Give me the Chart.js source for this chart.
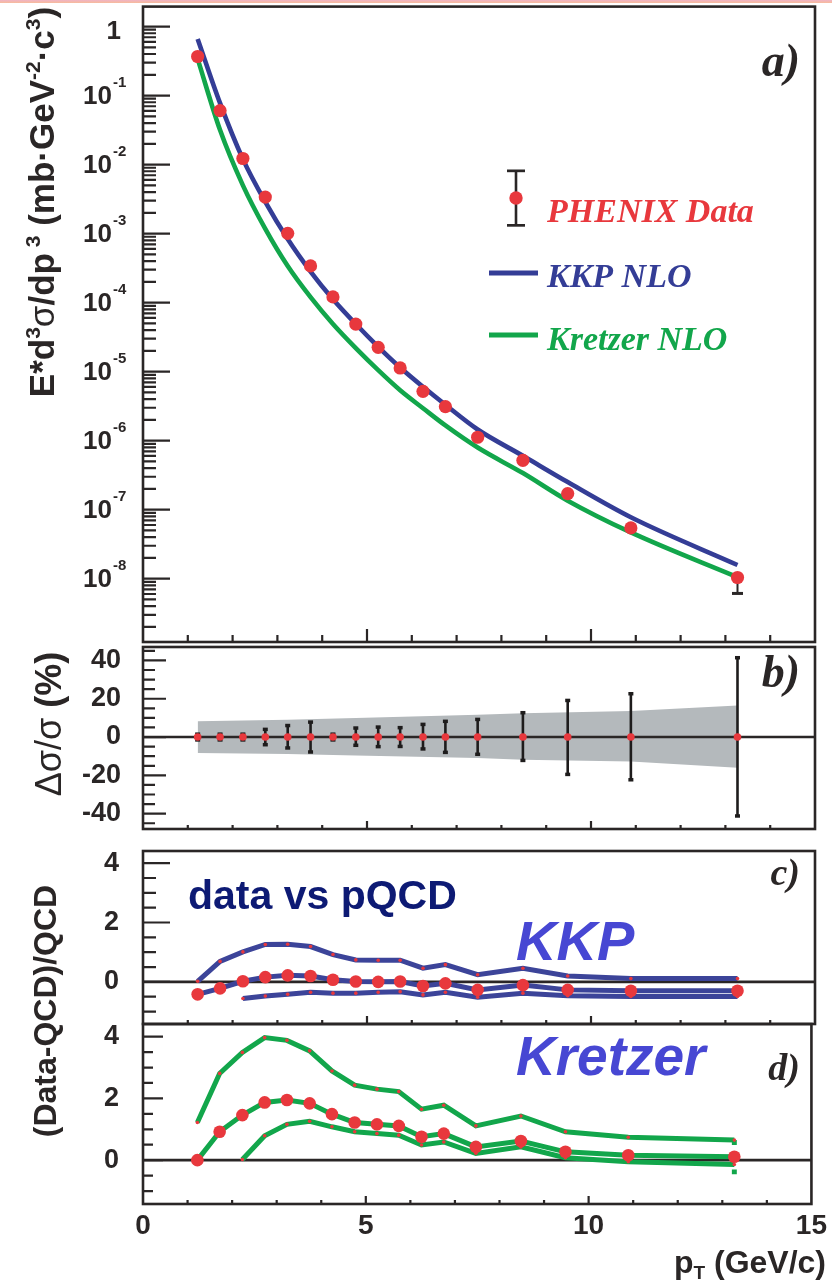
<!DOCTYPE html>
<html>
<head>
<meta charset="utf-8">
<title>PHENIX pi0 cross section vs NLO pQCD</title>
<script src="https://cdn.jsdelivr.net/npm/chart.js@4.4.1/dist/chart.umd.min.js"></script>
<style>
  html, body { margin:0; padding:0; background:#ffffff; }
  #wrap { position:relative; width:832px; height:1281px; overflow:hidden; background:#fff; }
  #wrap canvas { position:absolute; left:0; top:0; }
  #topbar { position:absolute; left:0; top:0; width:832px; height:3px; background:linear-gradient(to bottom,#f0b3c4,#f7bb9c); }
</style>
</head>
<body>
<div id="wrap">
  <canvas id="chartA" width="832" height="1281"></canvas>
  <canvas id="chartB" width="832" height="1281"></canvas>
  <canvas id="chartC" width="832" height="1281"></canvas>
  <canvas id="chartD" width="832" height="1281"></canvas>
  <div id="topbar"></div>
</div>
<script>
// ===================== DATA =====================
const pT = [1.22, 1.72, 2.23, 2.73, 3.23, 3.74, 4.24, 4.75, 5.25, 5.74, 6.25, 6.75, 7.47, 8.48, 9.48, 10.89, 13.27];

// panel a) invariant cross section (mb GeV^-2 c^3)
const phenixData = [0.368, 0.0605, 0.01225, 3.38e-3, 1.01e-3, 3.40e-4, 1.21e-4, 4.89e-5, 2.25e-5, 1.13e-5, 5.19e-6, 3.12e-6, 1.12e-6, 5.18e-7, 1.71e-7, 5.44e-8, 1.04e-8];
const kkpNLO     = [0.661, 0.0776, 0.0120, 2.88e-3, 8.32e-4, 2.82e-4, 1.12e-4, 4.90e-5, 2.29e-5, 1.15e-5, 6.03e-6, 3.31e-6, 1.45e-6, 6.03e-7, 2.51e-7, 7.76e-8, 1.58e-8];
const kretzerNLO = [0.340, 0.0316, 5.0e-3, 1.17e-3, 3.39e-4, 1.20e-4, 4.90e-5, 2.19e-5, 1.05e-5, 5.37e-6, 2.95e-6, 1.66e-6, 7.94e-7, 3.39e-7, 1.35e-7, 4.68e-8, 1.05e-8];

// panel b) relative errors (%)
const statErrUp   = [1.5, 1.5, 1.5, 4.0, 6.0, 7.8, 1.5, 4.7, 5.2, 4.9, 6.6, 8.2, 9.2, 12.7, 19.1, 22.6, 41.4];
const statErrDown = [1.5, 1.5, 1.5, 4.0, 5.7, 7.8, 1.5, 4.3, 5.0, 4.9, 6.2, 8.0, 9.0, 12.2, 19.5, 22.3, 41.2];
const sysBandPt   = [1.22, 3.23, 4.75, 7.47, 8.48, 10.89, 13.27];
const sysBandUp   = [8.3, 9.0, 10.0, 11.7, 12.4, 13.6, 16.4];
const sysBandDown = [-8.3, -8.8, -9.6, -11.0, -11.8, -12.8, -16.0];

// panel c) (Data-QCD)/QCD for KKP
const kkpRatio      = [-0.42, -0.22, 0.02, 0.16, 0.22, 0.20, 0.07, 0.01, 0.00, 0.01, -0.14, -0.05, -0.27, -0.11, -0.27, -0.30, -0.30];
const kkpRatioUpper = [0.02, 0.69, 1.01, 1.26, 1.27, 1.19, 0.92, 0.74, 0.73, 0.73, 0.46, 0.58, 0.24, 0.46, 0.20, 0.11, 0.11];
const kkpRatioLower = [null, null, -0.56, -0.48, -0.42, -0.35, -0.38, -0.38, -0.35, -0.33, -0.44, -0.35, -0.52, -0.38, -0.47, -0.49, -0.49];

// panel d) (Data-QCD)/QCD for Kretzer
const kretzerRatio      = [0.00, 0.92, 1.46, 1.87, 1.95, 1.84, 1.49, 1.22, 1.16, 1.11, 0.76, 0.86, 0.43, 0.62, 0.27, 0.16, 0.11];
const kretzerRatioUpper = [1.22, 2.81, 3.49, 3.97, 3.88, 3.54, 2.89, 2.43, 2.30, 2.22, 1.65, 1.78, 1.11, 1.43, 0.92, 0.74, 0.65];
const kretzerRatioLower = [null, null, 0.02, 0.79, 1.16, 1.26, 1.08, 0.92, 0.86, 0.81, 0.49, 0.59, 0.22, 0.43, 0.08, -0.05, -0.14];
const kretzerEndPt = [13.27, 13.27];
const kretzerEndMarks = [0.57, -0.38];

// tick labels
const logExponents = [0, -1, -2, -3, -4, -5, -6, -7, -8];
const xMajorTicks = [5, 10];
const xMinorTicks = [1, 2, 3, 4, 6, 7, 8, 9, 11, 12, 13, 14];
const bMajorTicks = [-40, -20, 0, 20, 40];
const cdMajorTicks = [0, 2, 4];

// ===================== STYLE =====================
const W = 832, H = 1281;
const AXIS = '#2a2626';
const RED = '#e8383d';
const BLUE = '#343d96';
const LBLUE = '#3c4499';
const GREEN = '#12a64b';
const BAND = '#b4b9bc';
const SANS = '"Liberation Sans", Arial, Helvetica, sans-serif';
const SERIF = '"Liberation Serif", "Times New Roman", serif';

function pts(xs, ys) {
  const out = [];
  xs.forEach((x, i) => { if (ys[i] !== null && ys[i] !== undefined) out.push({x: x, y: ys[i]}); });
  return out;
}

function richText(ctx, segs, x, y, angle, align) {
  ctx.save();
  ctx.translate(x, y);
  ctx.rotate(angle);
  let total = 0;
  segs.forEach(s => { ctx.font = s.f; s.w = ctx.measureText(s.t).width; total += s.w; });
  let cx = align === 'center' ? -total / 2 : (align === 'right' ? -total : 0);
  ctx.textBaseline = 'alphabetic';
  ctx.textAlign = 'left';
  segs.forEach(s => { ctx.font = s.f; ctx.fillStyle = s.c || AXIS; ctx.fillText(s.t, cx, s.dy || 0); cx += s.w; });
  ctx.restore();
}

function makeDeco(cfg) {
  return {
    id: 'deco',
    afterDatasetsDraw(chart) {
      const ctx = chart.ctx, ca = chart.chartArea;
      const xs = chart.scales.x, ys = chart.scales.y;
      ctx.save();
      ctx.strokeStyle = AXIS;
      ctx.lineWidth = 2.2;
      ctx.beginPath();
      const yTick = (v, len) => {
        const py = ys.getPixelForValue(v);
        if (py < ca.top + 2 || py > ca.bottom - 2) return;
        ctx.moveTo(ca.left, py); ctx.lineTo(ca.left + len, py);
      };
      cfg.yMinor.forEach(v => yTick(v, cfg.yMinorLen));
      cfg.yMajor.forEach(v => yTick(v, cfg.yMajorLen));
      const xTick = (v, len) => {
        const px = xs.getPixelForValue(v);
        ctx.moveTo(px, ca.bottom); ctx.lineTo(px, ca.bottom - len);
      };
      xMinorTicks.forEach(v => xTick(v, cfg.xMinorLen));
      xMajorTicks.forEach(v => xTick(v, cfg.xMajorLen));
      ctx.stroke();
      ctx.lineWidth = 2.6;
      ctx.strokeRect(ca.left, ca.top, ca.right - ca.left, ca.bottom - ca.top);
      ctx.restore();
      if (cfg.texts) cfg.texts(chart);
    }
  };
}

// error bars; parts that would stay hidden under the marker (within cfg.hideWithin px) are skipped
function makeErrBars(cfg) {
  return {
    id: 'errbars',
    beforeDatasetDraw(chart, args) {
      if (args.index !== cfg.beforeIndex) return;
      const ctx = chart.ctx, xS = chart.scales.x, yS = chart.scales.y;
      ctx.save();
      ctx.fillStyle = cfg.color; ctx.strokeStyle = cfg.color; ctx.lineWidth = cfg.stem;
      cfg.xs.forEach((xv, i) => {
        const px = xS.getPixelForValue(xv);
        const pc = yS.getPixelForValue(cfg.center[i]);
        const ends = [yS.getPixelForValue(cfg.hi[i]), yS.getPixelForValue(cfg.lo[i])];
        ends.forEach(pe => {
          if (cfg.hideWithin && Math.abs(pe - pc) < cfg.hideWithin) return;
          ctx.beginPath(); ctx.moveTo(px, pc); ctx.lineTo(px, pe); ctx.stroke();
          ctx.fillRect(px - cfg.capW / 2, pe - cfg.capH / 2, cfg.capW, cfg.capH);
        });
      });
      ctx.restore();
    }
  };
}

function baseOptions(top, bottom) {
  return {
    responsive: false,
    animation: false,
    events: [],
    layout: { padding: { top: top, bottom: H - bottom, left: 0, right: 17 } },
    plugins: { legend: { display: false }, tooltip: { enabled: false } },
    elements: { line: { tension: 0 } }
  };
}

function panelLetter(ctx, t, y, size) {
  ctx.save();
  ctx.font = 'italic bold ' + size + 'px ' + SERIF;
  ctx.fillStyle = AXIS; ctx.textAlign = 'right'; ctx.textBaseline = 'alphabetic';
  ctx.fillText(t, 800, y);
  ctx.restore();
}

const linearTickFont = { family: SANS, weight: 'bold', size: 27 };

// ===================== PANEL A =====================
(function () {
  const yMinor = [];
  for (let e = -9; e <= 0; e++) for (let k = 2; k <= 9; k++) yMinor.push(k * Math.pow(10, e));
  const yMajor = logExponents.map(e => Math.pow(10, e));
  const opts = baseOptions(5, 642);
  opts.scales = {
    x: { type: 'linear', min: 0, max: 15, display: false },
    y: { type: 'logarithmic', min: 1.21e-9, max: 1.945, display: true,
         grid: { display: false, drawTicks: false }, border: { display: false },
         ticks: { display: false }, afterFit(s) { s.width = 143; } }
  };
  new Chart(document.getElementById('chartA'), {
    type: 'scatter',
    data: { datasets: [
      { label: 'PHENIX Data', data: pts(pT, phenixData), showLine: false, pointRadius: 6.6,
        pointBackgroundColor: RED, pointBorderWidth: 0 },
      { label: 'KKP NLO', data: pts(pT, kkpNLO), showLine: true, borderColor: BLUE, borderWidth: 4.6,
        pointRadius: 0, cubicInterpolationMode: 'monotone' },
      { label: 'Kretzer NLO', data: pts(pT, kretzerNLO), showLine: true, borderColor: GREEN, borderWidth: 4.6,
        pointRadius: 0, cubicInterpolationMode: 'monotone' }
    ] },
    options: opts,
    plugins: [
      makeErrBars({ beforeIndex: 1, xs: pT, center: phenixData, color: AXIS, stem: 2, capW: 11, capH: 3, hideWithin: 11.5,
        hi: phenixData.map((v, i) => v * (1 + statErrUp[i] / 100)),
        lo: phenixData.map((v, i) => v * (1 - statErrDown[i] / 100)) }),
      makeDeco({ yMinor: yMinor, yMajor: yMajor, yMinorLen: 13, yMajorLen: 27, xMinorLen: 7, xMajorLen: 13,
        texts(chart) {
          const ctx = chart.ctx, ys = chart.scales.y;
          ctx.save();
          ctx.fillStyle = AXIS;
          logExponents.forEach(e => {
            const py = ys.getPixelForValue(Math.pow(10, e));
            if (e === 0) {
              ctx.font = 'bold 26px ' + SANS; ctx.textAlign = 'right'; ctx.textBaseline = 'middle';
              ctx.fillText('1', 121, py + 5);
            } else {
              ctx.font = 'bold 26px ' + SANS; ctx.textAlign = 'right'; ctx.textBaseline = 'middle';
              ctx.fillText('10', 112, py + 1);
              ctx.font = 'bold 15px ' + SANS; ctx.textAlign = 'left'; ctx.textBaseline = 'alphabetic';
              ctx.fillText(String(e), 113, py - 9);
            }
          });
          ctx.restore();
          // y title
          const F = 35, f = 21, up = -14;
          richText(ctx, [
            { t: 'E*d', f: 'bold ' + F + 'px ' + SANS },
            { t: '3', f: 'bold ' + f + 'px ' + SANS, dy: up },
            { t: '\u03c3', f: F + 'px ' + SANS },
            { t: '/dp', f: 'bold ' + F + 'px ' + SANS },
            { t: ' 3', f: 'bold ' + f + 'px ' + SANS, dy: up },
            { t: ' (mb\u00b7GeV', f: 'bold ' + F + 'px ' + SANS },
            { t: '-2', f: 'bold ' + f + 'px ' + SANS, dy: up },
            { t: '\u00b7c', f: 'bold ' + F + 'px ' + SANS },
            { t: '3', f: 'bold ' + f + 'px ' + SANS, dy: up },
            { t: ')', f: 'bold ' + F + 'px ' + SANS }
          ], 54, 202, -Math.PI / 2, 'center');
          panelLetter(ctx, 'a)', 76, 46);
          // legend
          ctx.save();
          ctx.strokeStyle = AXIS; ctx.fillStyle = AXIS; ctx.lineWidth = 2.6;
          ctx.beginPath(); ctx.moveTo(516, 171); ctx.lineTo(516, 225); ctx.stroke();
          ctx.fillRect(507, 169.5, 18, 2.7); ctx.fillRect(507, 224, 18, 2.7);
          ctx.fillStyle = RED; ctx.beginPath(); ctx.arc(516, 198, 6.7, 0, Math.PI * 2); ctx.fill();
          ctx.lineWidth = 5;
          ctx.strokeStyle = BLUE; ctx.beginPath(); ctx.moveTo(489, 273); ctx.lineTo(538, 273); ctx.stroke();
          ctx.strokeStyle = GREEN; ctx.beginPath(); ctx.moveTo(489, 335); ctx.lineTo(538, 335); ctx.stroke();
          ctx.font = 'italic bold 34px ' + SERIF; ctx.textAlign = 'left'; ctx.textBaseline = 'alphabetic';
          ctx.fillStyle = RED; ctx.fillText('PHENIX Data', 547, 222);
          ctx.fillStyle = BLUE; ctx.fillText('KKP NLO', 547, 287);
          ctx.fillStyle = GREEN; ctx.fillText('Kretzer NLO', 547, 350);
          ctx.restore();
        } })
    ]
  });
})();

// ===================== PANEL B =====================
(function () {
  const yMinor = [];
  for (let v = -45; v <= 45; v += 5) if (bMajorTicks.indexOf(v) < 0) yMinor.push(v);
  const opts = baseOptions(647, 829);
  opts.scales = {
    x: { type: 'linear', min: 0, max: 15, display: false },
    y: { type: 'linear', min: -48, max: 47, display: true,
         grid: { display: false, drawTicks: false }, border: { display: false },
         ticks: { stepSize: 20, includeBounds: false, font: linearTickFont, color: AXIS, padding: 22 },
         afterFit(s) { s.width = 143; } }
  };
  const zeros = pT.map(() => 0);
  new Chart(document.getElementById('chartB'), {
    type: 'scatter',
    data: { datasets: [
      { label: 'relative error', data: pts(pT, zeros), showLine: false, pointRadius: 3.8,
        pointBackgroundColor: RED, pointBorderWidth: 0 },
      { label: 'zero', data: [{x: 0, y: 0}, {x: 15, y: 0}], showLine: true, borderColor: AXIS, borderWidth: 2.6, pointRadius: 0 },
      { label: 'sys up', data: pts(sysBandPt, sysBandUp), showLine: true, borderWidth: 0, borderColor: 'rgba(0,0,0,0)',
        pointRadius: 0, fill: '+1', backgroundColor: BAND },
      { label: 'sys down', data: pts(sysBandPt, sysBandDown), showLine: true, borderWidth: 0, borderColor: 'rgba(0,0,0,0)',
        pointRadius: 0 }
    ] },
    options: opts,
    plugins: [
      makeErrBars({ beforeIndex: 0, xs: pT, center: zeros, color: '#1e1c1c', stem: 2.6, capW: 5, capH: 3.5,
        hi: statErrUp, lo: statErrDown.map(v => -v) }),
      makeDeco({ yMinor: yMinor, yMajor: bMajorTicks, yMinorLen: 12, yMajorLen: 23, xMinorLen: 4, xMajorLen: 8,
        texts(chart) {
          const ctx = chart.ctx;
          richText(ctx, [
            { t: '\u0394\u03c3/\u03c3', f: '36px ' + SANS },
            { t: ' (%)', f: 'bold 36px ' + SANS }
          ], 61, 724, -Math.PI / 2, 'center');
          panelLetter(ctx, 'b)', 687, 46);
        } })
    ]
  });
})();

// ===================== PANEL C =====================
function ratioTicks() {
  const m = [];
  for (let v = -1; v <= 4.001; v += 0.5) { const r = Math.round(v * 10) / 10; if (cdMajorTicks.indexOf(r) < 0) m.push(r); }
  return m;
}
(function () {
  const opts = baseOptions(851, 1024);
  opts.scales = {
    x: { type: 'linear', min: 0, max: 15, display: false },
    y: { type: 'linear', min: -1.42, max: 4.41, display: true,
         grid: { display: false, drawTicks: false }, border: { display: false },
         ticks: { stepSize: 2, includeBounds: false, font: linearTickFont, color: AXIS, padding: 24 },
         afterFit(s) { s.width = 143; } }
  };
  new Chart(document.getElementById('chartC'), {
    type: 'scatter',
    data: { datasets: [
      { label: 'KKP ratio', data: pts(pT, kkpRatio), showLine: true, borderColor: LBLUE, borderWidth: 5,
        pointRadius: 6.3, pointBackgroundColor: RED, pointBorderWidth: 0 },
      { label: 'KKP upper', data: pts(pT, kkpRatioUpper), showLine: true, borderColor: LBLUE, borderWidth: 5,
        pointRadius: 1.8, pointBackgroundColor: RED, pointBorderWidth: 0 },
      { label: 'KKP lower', data: pts(pT, kkpRatioLower), showLine: true, borderColor: LBLUE, borderWidth: 5,
        pointRadius: 1.8, pointBackgroundColor: RED, pointBorderWidth: 0 },
      { label: 'zero', data: [{x: 0, y: 0}, {x: 15, y: 0}], showLine: true, borderColor: AXIS, borderWidth: 2.6, pointRadius: 0 }
    ] },
    options: opts,
    plugins: [
      makeDeco({ yMinor: ratioTicks(), yMajor: cdMajorTicks, yMinorLen: 13, yMajorLen: 27, xMinorLen: 4, xMajorLen: 8,
        texts(chart) {
          const ctx = chart.ctx;
          ctx.save();
          ctx.textAlign = 'left'; ctx.textBaseline = 'alphabetic';
          ctx.font = 'bold 41px ' + SANS; ctx.fillStyle = '#0d1a74';
          ctx.fillText('data vs pQCD', 188, 909);
          ctx.font = 'italic bold 56px ' + SANS; ctx.fillStyle = '#4747d3';
          ctx.fillText('KKP', 516, 960);
          ctx.restore();
          richText(ctx, [ { t: '(Data-QCD)/QCD', f: 'bold 32px ' + SANS } ], 56, 1011, -Math.PI / 2, 'center');
          panelLetter(ctx, 'c)', 885, 38);
        } })
    ]
  });
})();

// ===================== PANEL D =====================
(function () {
  const opts = baseOptions(1024, 1204);
  opts.layout.padding.bottom = 0;
  opts.scales = {
    x: { type: 'linear', min: 0, max: 15, display: true,
         grid: { display: false, drawTicks: false }, border: { display: false },
         ticks: { stepSize: 5, font: { family: SANS, weight: 'bold', size: 28 }, color: AXIS, padding: 5, maxRotation: 0 },
         afterFit(s) { s.height = H - 1204; } },
    y: { type: 'linear', min: -1.42, max: 4.41, display: true,
         grid: { display: false, drawTicks: false }, border: { display: false },
         ticks: { stepSize: 2, includeBounds: false, font: linearTickFont, color: AXIS, padding: 24 },
         afterFit(s) { s.width = 143; } }
  };
  new Chart(document.getElementById('chartD'), {
    type: 'scatter',
    data: { datasets: [
      { label: 'Kretzer ratio', data: pts(pT, kretzerRatio), showLine: true, borderColor: GREEN, borderWidth: 5,
        pointRadius: 6.3, pointBackgroundColor: RED, pointBorderWidth: 0 },
      { label: 'Kretzer upper', data: pts(pT, kretzerRatioUpper), showLine: true, borderColor: GREEN, borderWidth: 5,
        pointRadius: 1.8, pointBackgroundColor: RED, pointBorderWidth: 0 },
      { label: 'Kretzer lower', data: pts(pT, kretzerRatioLower), showLine: true, borderColor: GREEN, borderWidth: 5,
        pointRadius: 1.8, pointBackgroundColor: RED, pointBorderWidth: 0 },
      { label: 'end marks', data: pts(kretzerEndPt, kretzerEndMarks), showLine: false, pointStyle: 'rect',
        pointRadius: 3.5, pointBackgroundColor: GREEN, pointBorderWidth: 0 },
      { label: 'zero', data: [{x: 0, y: 0}, {x: 15, y: 0}], showLine: true, borderColor: AXIS, borderWidth: 2.6, pointRadius: 0 }
    ] },
    options: opts,
    plugins: [
      makeDeco({ yMinor: ratioTicks(), yMajor: cdMajorTicks, yMinorLen: 10, yMajorLen: 20, xMinorLen: 4, xMajorLen: 8,
        texts(chart) {
          const ctx = chart.ctx;
          ctx.save();
          ctx.textAlign = 'left'; ctx.textBaseline = 'alphabetic';
          ctx.font = 'italic bold 55px ' + SANS; ctx.fillStyle = '#4747d3';
          ctx.fillText('Kretzer', 516, 1075);
          ctx.restore();
          panelLetter(ctx, 'd)', 1080, 38);
          richText(ctx, [
            { t: 'p', f: 'bold 32px ' + SANS },
            { t: 'T', f: 'bold 19px ' + SANS, dy: 6 },
            { t: ' (GeV/c)', f: 'bold 32px ' + SANS }
          ], 826, 1273, 0, 'right');
        } })
    ]
  });
})();
</script>
</body>
</html>
